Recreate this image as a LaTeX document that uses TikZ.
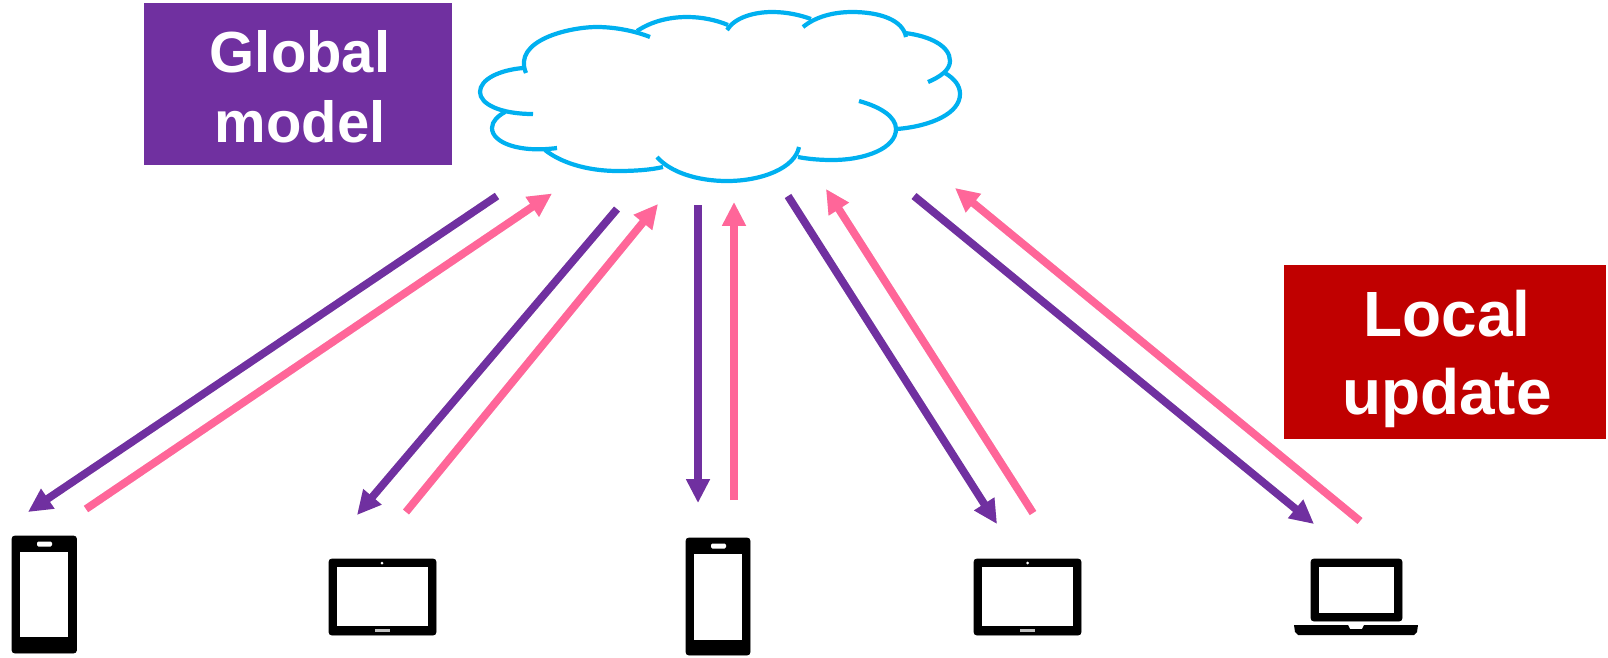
\documentclass[tikz,border=0pt]{standalone}
\usepackage{fontspec}
\setmainfont{Liberation Sans}
\usetikzlibrary{arrows.meta}
\definecolor{modelpurple}{HTML}{7030A0}
\definecolor{updatered}{HTML}{C00000}
\definecolor{updatepink}{HTML}{FF6699}
\definecolor{cloudblue}{HTML}{00B0F0}
\tikzset{
  labelbox/.style={rectangle, inner sep=0pt},
  labeltext/.style={text=white, align=center, inner sep=0pt},
  lobe/.style={draw=cloudblue, line width=2.4pt},
  link/.style={line width=4.4pt, -{Triangle[length=13.6pt, width=12.8pt]}},
  down/.style={link, draw=modelpurple},
  up/.style={link, draw=updatepink},
  faint/.style={link, draw=black, opacity=0.1, xshift=1.5pt, yshift=-2pt},
  body/.style={fill=black, rounded corners=1.6pt},
  screen/.style={fill=white},
  dot/.style={fill=white, rounded corners=0.8pt},
}
\begin{document}
\begin{tikzpicture}[x=0.02cm, y=-0.02cm]
  \useasboundingbox (0,0) rectangle (1608,657);
  % boxes
  \node[labelbox, fill=modelpurple, minimum width=6.16cm, minimum height=3.24cm] (globalbox) at (298,84) {};
  \node[labeltext, font=\bfseries\fontsize{33}{39.8}\selectfont] (globaltext) at (300,87) {Global\\model};
  \node[labelbox, fill=updatered, minimum width=6.44cm, minimum height=3.48cm] (localbox) at (1445,352) {};
  \node[labeltext, font=\bfseries\fontsize{36.4}{44.4}\selectfont] (localtext) at (1447,359) {Local\\update};
  % cloud
  \draw[lobe] (526,73) .. controls (512,40) and (570,27) .. (597,27) .. controls (615,27) and (635,31) .. (650,37);
  \draw[lobe] (637,31) .. controls (652,21) and (670,17) .. (687,17) .. controls (702,17) and (716,20) .. (728,25);
  \draw[lobe] (727,30) .. controls (735,17) and (755,12) .. (772,12) .. controls (787,12) and (800,15) .. (811,19);
  \draw[lobe] (803,27) .. controls (815,17) and (833,12) .. (852,12) .. controls (880,12) and (903,20) .. (906,37);
  \draw[lobe] (905,33) .. controls (930,36) and (950,46) .. (950,61) .. controls (950,70) and (940,77) .. (928,82);
  \draw[lobe] (945,73) .. controls (955,79) and (960,86) .. (960,94) .. controls (960,113) and (932,126) .. (897,129);
  \draw[lobe] (859,101) .. controls (881,107) and (896,117) .. (896,129) .. controls (896,148) and (866,160) .. (832,160) .. controls (820,160) and (808,159) .. (798,157);
  \draw[lobe] (799,147) .. controls (795,168) and (762,181) .. (727,181) .. controls (697,181) and (670,172) .. (657,157);
  \draw[lobe] (663,167) .. controls (650,170) and (634,171) .. (618,171) .. controls (586,171) and (560,162) .. (545,150);
  \draw[lobe] (557,148) .. controls (520,153) and (492,143) .. (492,128) .. controls (492,121) and (498,116) .. (505,112);
  \draw[lobe] (533,114) .. controls (500,114) and (480,104) .. (480,92) .. controls (480,79) and (500,70) .. (523,68);
  % arrow ends
  \coordinate (cloudA) at (497,196);  \coordinate (phoneA) at (28,512);
  \coordinate (phoneAu) at (86,509);  \coordinate (cloudAu) at (552,193.5);
  \coordinate (cloudB) at (617,209);  \coordinate (tabletA) at (357,515);
  \coordinate (tabletAu) at (406,512); \coordinate (cloudBu) at (658,204);
  \coordinate (cloudC) at (698,205);  \coordinate (phoneB) at (698,503);
  \coordinate (phoneBu) at (734,500); \coordinate (cloudCu) at (734,202);
  \coordinate (cloudD) at (788,196);  \coordinate (tabletB) at (997,524);
  \coordinate (tabletBu) at (1033,513); \coordinate (cloudDu) at (826,189);
  \coordinate (cloudE) at (914,196);  \coordinate (laptop) at (1314,524);
  \coordinate (laptopu) at (1360,521); \coordinate (cloudEu) at (955,188);
  % arrows
  \foreach \from/\to in {cloudA/phoneA, phoneAu/cloudAu, cloudB/tabletA, tabletAu/cloudBu, cloudC/phoneB, phoneBu/cloudCu, cloudD/tabletB, tabletBu/cloudDu, cloudE/laptop, laptopu/cloudEu}
    \draw[faint] (\from) -- (\to);
  \draw[down] (cloudA) -- (phoneA);
  \draw[up] (phoneAu) -- (cloudAu);
  \draw[down] (cloudB) -- (tabletA);
  \draw[up] (tabletAu) -- (cloudBu);
  \draw[down] (cloudC) -- (phoneB);
  \draw[up] (phoneBu) -- (cloudCu);
  \draw[down] (cloudD) -- (tabletB);
  \draw[up] (tabletBu) -- (cloudDu);
  \draw[down] (cloudE) -- (laptop);
  \draw[up] (laptopu) -- (cloudEu);
  % phones
  \draw[body] (12,536) rectangle (76.5,653);
  \fill[screen] (19.5,552) rectangle (68,637);
  \fill[dot] (37,541.5) rectangle (52,546.5);
  \draw[body] (686,538) rectangle (750,655);
  \fill[screen] (694,554) rectangle (742,640);
  \fill[dot] (711,543.5) rectangle (726,548.5);
  % tablets
  \draw[body] (329,559) rectangle (436,635);
  \fill[screen] (337,567) rectangle (428,626);
  \fill[white] (382,563) circle (1.5);
  \fill[white!75!black] (374.5,628.5) rectangle (389.5,632);
  \draw[body] (974,559) rectangle (1081,635);
  \fill[screen] (982,567) rectangle (1073,626);
  \fill[white] (1027.5,563) circle (1.5);
  \fill[white!75!black] (1020,628.5) rectangle (1035,632);
  % laptop
  \draw[body] (1311,559) rectangle (1402,621);
  \fill[screen] (1319,567) rectangle (1394,613);
  \fill[black] (1294,625) -- (1348,625) -- (1350,629) -- (1362,629) -- (1364,625) -- (1418,625) -- (1417,632) -- (1414,635) -- (1298,635) -- (1295,632) -- cycle;
\end{tikzpicture}
\end{document}
